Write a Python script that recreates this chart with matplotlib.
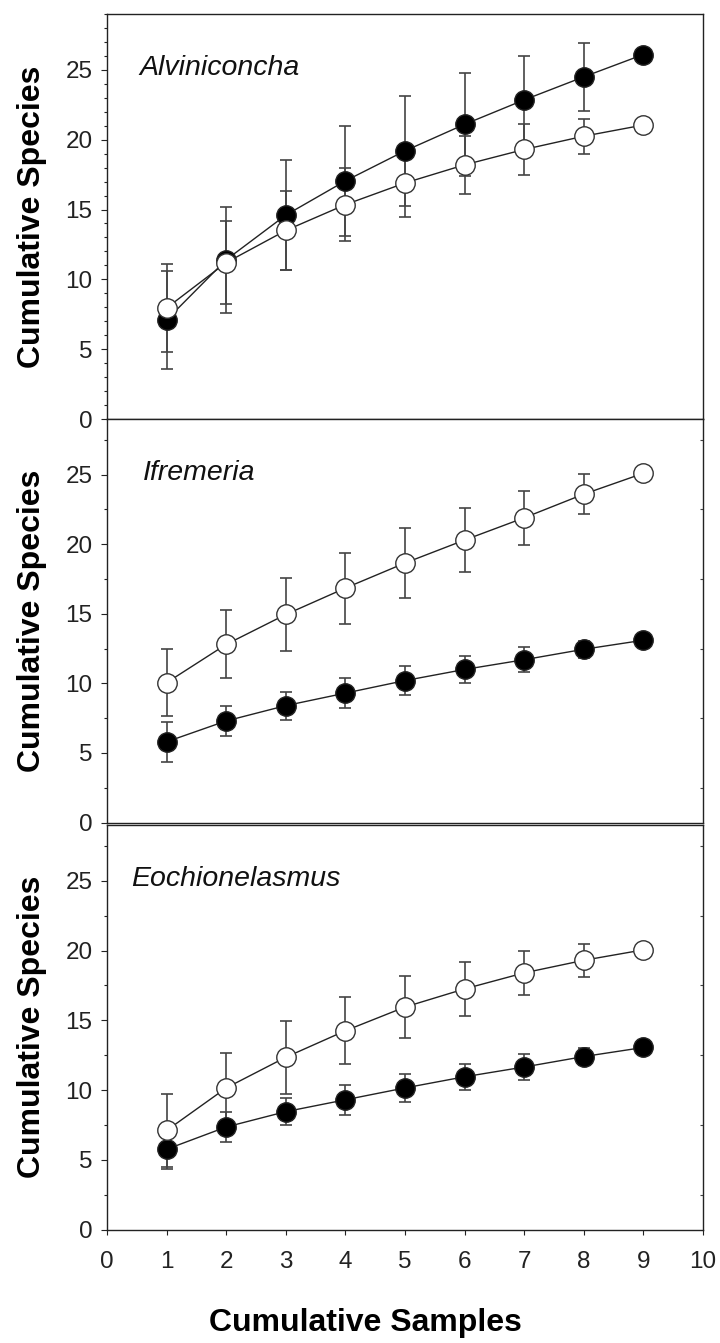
import numpy as np
import matplotlib
matplotlib.use("Agg")
import matplotlib.pyplot as plt
from matplotlib.ticker import MultipleLocator

plt.rcParams['font.family'] = ['Liberation Sans', 'DejaVu Sans']

# data (mean +/- error)
samples = [1, 2, 3, 4, 5, 6, 7, 8, 9]
panel_names = ["Alviniconcha", "Ifremeria", "Eochionelasmus"]

alv_filled = [7.1, 11.4, 14.6, 17.05, 19.2, 21.1, 22.85, 24.5, 26.1]
alv_filled_err = [3.5, 3.8, 3.95, 3.95, 3.95, 3.7, 3.15, 2.45, 0]
alv_open = [7.95, 11.2, 13.5, 15.35, 16.9, 18.2, 19.3, 20.25, 21.05]
alv_open_err = [3.15, 2.95, 2.8, 2.6, 2.4, 2.1, 1.8, 1.25, 0]

ifr_filled = [5.8, 7.3, 8.4, 9.3, 10.2, 11.0, 11.7, 12.45, 13.1]
ifr_filled_err = [1.42, 1.08, 1.0, 1.07, 1.03, 1.0, 0.88, 0.6, 0]
ifr_open = [10.05, 12.8, 14.95, 16.85, 18.65, 20.3, 21.9, 23.6, 25.1]
ifr_open_err = [2.4, 2.45, 2.6, 2.55, 2.5, 2.3, 1.95, 1.45, 0]

eoc_filled = [5.75, 7.35, 8.45, 9.3, 10.15, 10.95, 11.65, 12.4, 13.05]
eoc_filled_err = [1.43, 1.05, 0.98, 1.07, 1.02, 0.95, 0.9, 0.58, 0]
eoc_open = [7.1, 10.15, 12.35, 14.25, 15.95, 17.25, 18.4, 19.3, 20.05]
eoc_open_err = [2.6, 2.5, 2.6, 2.4, 2.2, 1.95, 1.6, 1.2, 0]

panels = [
    (alv_filled, alv_filled_err, alv_open, alv_open_err),
    (ifr_filled, ifr_filled_err, ifr_open, ifr_open_err),
    (eoc_filled, eoc_filled_err, eoc_open, eoc_open_err),
]

W, H = 720, 1343
fig = plt.figure(figsize=(W / 100, H / 100), dpi=100)

# axes boxes in pixels: (top, bottom)
boxes = [(14, 419), (419, 822.5), (825, 1229.5)]
left_px, right_px = 107, 703
minor_steps = [1, 2.5, 2.5]

axes = []
for i, (top, bot) in enumerate(boxes):
    ax = fig.add_axes([left_px / W, 1 - bot / H, (right_px - left_px) / W, (bot - top) / H])
    axes.append(ax)
    f, fe, o, oe = panels[i]

    # error bars behind the markers
    ax.errorbar(samples, f, yerr=fe, fmt='none', ecolor='#444444', elinewidth=1.2,
                capsize=4.5, capthick=1.2, zorder=1)
    ax.errorbar(samples, o, yerr=oe, fmt='none', ecolor='#444444', elinewidth=1.2,
                capsize=4.5, capthick=1.2, zorder=1)
    ax.plot(samples, f, color='#222222', lw=1.0, marker='o', ms=14,
            mfc='black', mec='#222222', mew=1.0, zorder=3)
    ax.plot(samples, o, color='#222222', lw=1.0, marker='o', ms=14,
            mfc='white', mec='#333333', mew=1.0, zorder=4)

    ax.set_xlim(0, 10)
    ax.set_ylim(0, 29)
    ax.yaxis.set_major_locator(MultipleLocator(5))
    ax.yaxis.set_minor_locator(MultipleLocator(minor_steps[i]))
    ax.tick_params(axis='y', which='major', direction='out', length=4.5, width=0.8,
                   labelsize=17.5, pad=6, colors='#222222')
    ax.tick_params(axis='y', which='minor', direction='out', length=2.2, width=0.8,
                   colors='#222222')
    ax.xaxis.set_major_locator(MultipleLocator(1))
    if i < 2:
        ax.tick_params(axis='x', which='both', bottom=False, labelbottom=False)
    else:
        ax.tick_params(axis='x', which='major', direction='out', length=3.5, width=0.8,
                       labelsize=17.5, pad=12, colors='#222222')
        ax.xaxis.set_minor_locator(MultipleLocator(10))
        ax.tick_params(axis='x', which='minor', bottom=False)
    for s in ax.spines.values():
        s.set_color('#222222')
        s.set_linewidth(1.0)

    if i > 0:
        # small inward minor ticks on the right side
        sec = ax.secondary_yaxis('right')
        sec.yaxis.set_major_locator(MultipleLocator(5))
        sec.yaxis.set_minor_locator(MultipleLocator(2.5))
        sec.tick_params(which='major', length=0, labelright=False)
        sec.tick_params(which='minor', direction='in', length=2.5, width=0.8, colors='#444444')
        sec.spines['right'].set_visible(False)

    xs = [0.55, 0.6, 0.4][i]
    ax.text(xs, 25.1, panel_names[i], fontsize=20.5, fontstyle='italic',
            ha='left', va='center', color='#111111')

    fig.text(32 / W, 1 - (top + bot) / 2 / H, "Cumulative Species", rotation=90,
             fontsize=23, fontweight='bold', ha='center', va='center')

fig.text(365 / W, 1 - 1323 / H, "Cumulative Samples", fontsize=23, fontweight='bold',
         ha='center', va='center')

fig.savefig("out.png", dpi=100, facecolor='white')
